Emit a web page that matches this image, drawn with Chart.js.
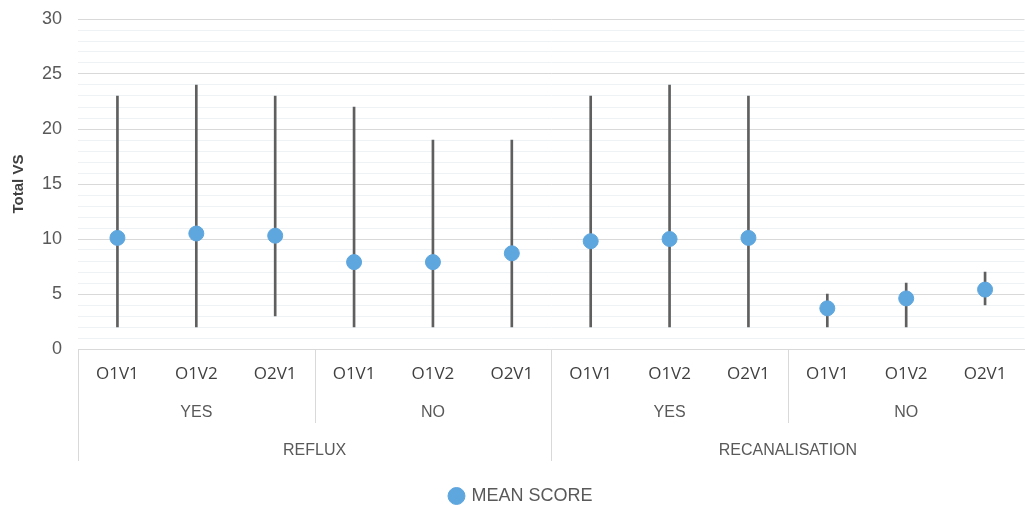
<!DOCTYPE html>
<html>
<head>
<meta charset="utf-8">
<script src="https://cdn.jsdelivr.net/npm/chart.js@4"></script>
<style>
  html, body { margin: 0; padding: 0; background: #fff; overflow: hidden; }
  #wrap { width: 1033px; height: 505px; }
</style>
</head>
<body>
<div id="wrap"><canvas id="chart" width="1033" height="505"></canvas></div>
<script>
// categories and groups
const categories = ["O1V1", "O1V2", "O2V1", "O1V1", "O1V2", "O2V1", "O1V1", "O1V2", "O2V1", "O1V1", "O1V2", "O2V1"];
const subGroupLabels = ["YES", "NO", "YES", "NO"];
const groupLabels = ["REFLUX", "RECANALISATION"];

// values
const meanScores = [10.1, 10.5, 10.3, 7.9, 7.9, 8.7, 9.8, 10.0, 10.1, 3.7, 4.6, 5.4];
const minScores = [2, 2, 3, 2, 2, 2, 2, 2, 2, 2, 2, 4];
const maxScores = [23, 24, 23, 22, 19, 19, 23, 24, 23, 5, 6, 7];

const ranges = minScores.map((v, i) => [v, maxScores[i]]);

const blue = "#5ea6de";
const textGray = "#595959";
const lineGray = "#d9d9d9";

// draws the nested category rows under the x axis
const groupRows = {
  id: "groupRows",
  afterDraw(chart) {
    const ctx = chart.ctx;
    const x = chart.scales.x;
    const top = chart.chartArea.bottom;
    const step = x.getPixelForValue(1) - x.getPixelForValue(0);
    const edge = i => x.getPixelForValue(i) - step / 2;
    ctx.save();
    ctx.strokeStyle = lineGray;
    ctx.lineWidth = 1;
    // sub group separators
    [0, 3, 6, 9, 12].forEach(i => {
      const px = Math.round(edge(i)) + 0.5;
      const full = i % 6 === 0;
      ctx.beginPath();
      ctx.moveTo(px, top);
      ctx.lineTo(px, top + (full ? 112 : 74));
      ctx.stroke();
    });
    ctx.fillStyle = textGray;
    ctx.textAlign = "center";
    ctx.textBaseline = "middle";
    ctx.font = "16px 'Liberation Sans', Arial, sans-serif";
    subGroupLabels.forEach((lab, g) => {
      const cx = (edge(g * 3) + edge(g * 3 + 3)) / 2;
      ctx.fillText(lab, cx, top + 64);
    });
    groupLabels.forEach((lab, g) => {
      const cx = (edge(g * 6) + edge(g * 6 + 6)) / 2;
      ctx.fillText(lab, cx, top + 102);
    });
    ctx.restore();
  }
};

new Chart(document.getElementById("chart"), {
  type: "bar",
  data: {
    labels: categories,
    datasets: [
      {
        type: "line",
        label: "MEAN SCORE",
        data: meanScores,
        showLine: false,
        pointRadius: 7.5,
        pointHoverRadius: 7.5,
        pointBackgroundColor: blue,
        pointBorderColor: blue,
        backgroundColor: blue,
        borderColor: blue,
        order: 0
      },
      {
        label: "range",
        data: ranges,
        backgroundColor: "#5f5f5f",
        barThickness: 2,
        order: 1
      }
    ]
  },
  options: {
    responsive: false,
    animation: false,
    layout: { padding: { top: 19, left: 10, right: 0, bottom: -10 } },
    plugins: {
      tooltip: { enabled: false },
      legend: {
        position: "bottom",
        labels: {
          filter: item => item.datasetIndex === 0,
          usePointStyle: true,
          pointStyle: "circle",
          boxWidth: 12,
          boxHeight: 12,
          padding: 0,
          color: textGray,
          font: { family: "'Liberation Sans', Arial, sans-serif", size: 18 }
        }
      }
    },
    scales: {
      x: {
        grid: { display: false, drawTicks: false },
        border: { display: true, color: lineGray },
        ticks: {
          padding: 15,
          color: "#404040",
          font: { family: "'Open Sans', sans-serif", size: 17 }
        },
        afterFit: scale => { scale.height = 138; }
      },
      y: {
        min: 0,
        max: 30,
        border: { display: false },
        grid: {
          drawTicks: false,
          color: ctx => (ctx.tick && ctx.tick.value % 5 === 0) ? lineGray : "#eef2f4"
        },
        ticks: {
          stepSize: 1,
          autoSkip: false,
          padding: 16,
          color: textGray,
          font: { family: "'Liberation Sans', Arial, sans-serif", size: 18 },
          callback: v => (v % 5 === 0 ? v : "")
        },
        title: {
          display: true,
          text: "Total VS",
          color: "#404040",
          padding: { top: 0, bottom: 6 },
          font: { family: "'Liberation Sans', Arial, sans-serif", size: 15, weight: "bold" }
        },
        afterFit: scale => {
          scale.width = 68;
          scale.paddingTop = 0;
          scale.paddingBottom = 0;
        }
      }
    }
  },
  plugins: [groupRows]
});
</script>
</body>
</html>
